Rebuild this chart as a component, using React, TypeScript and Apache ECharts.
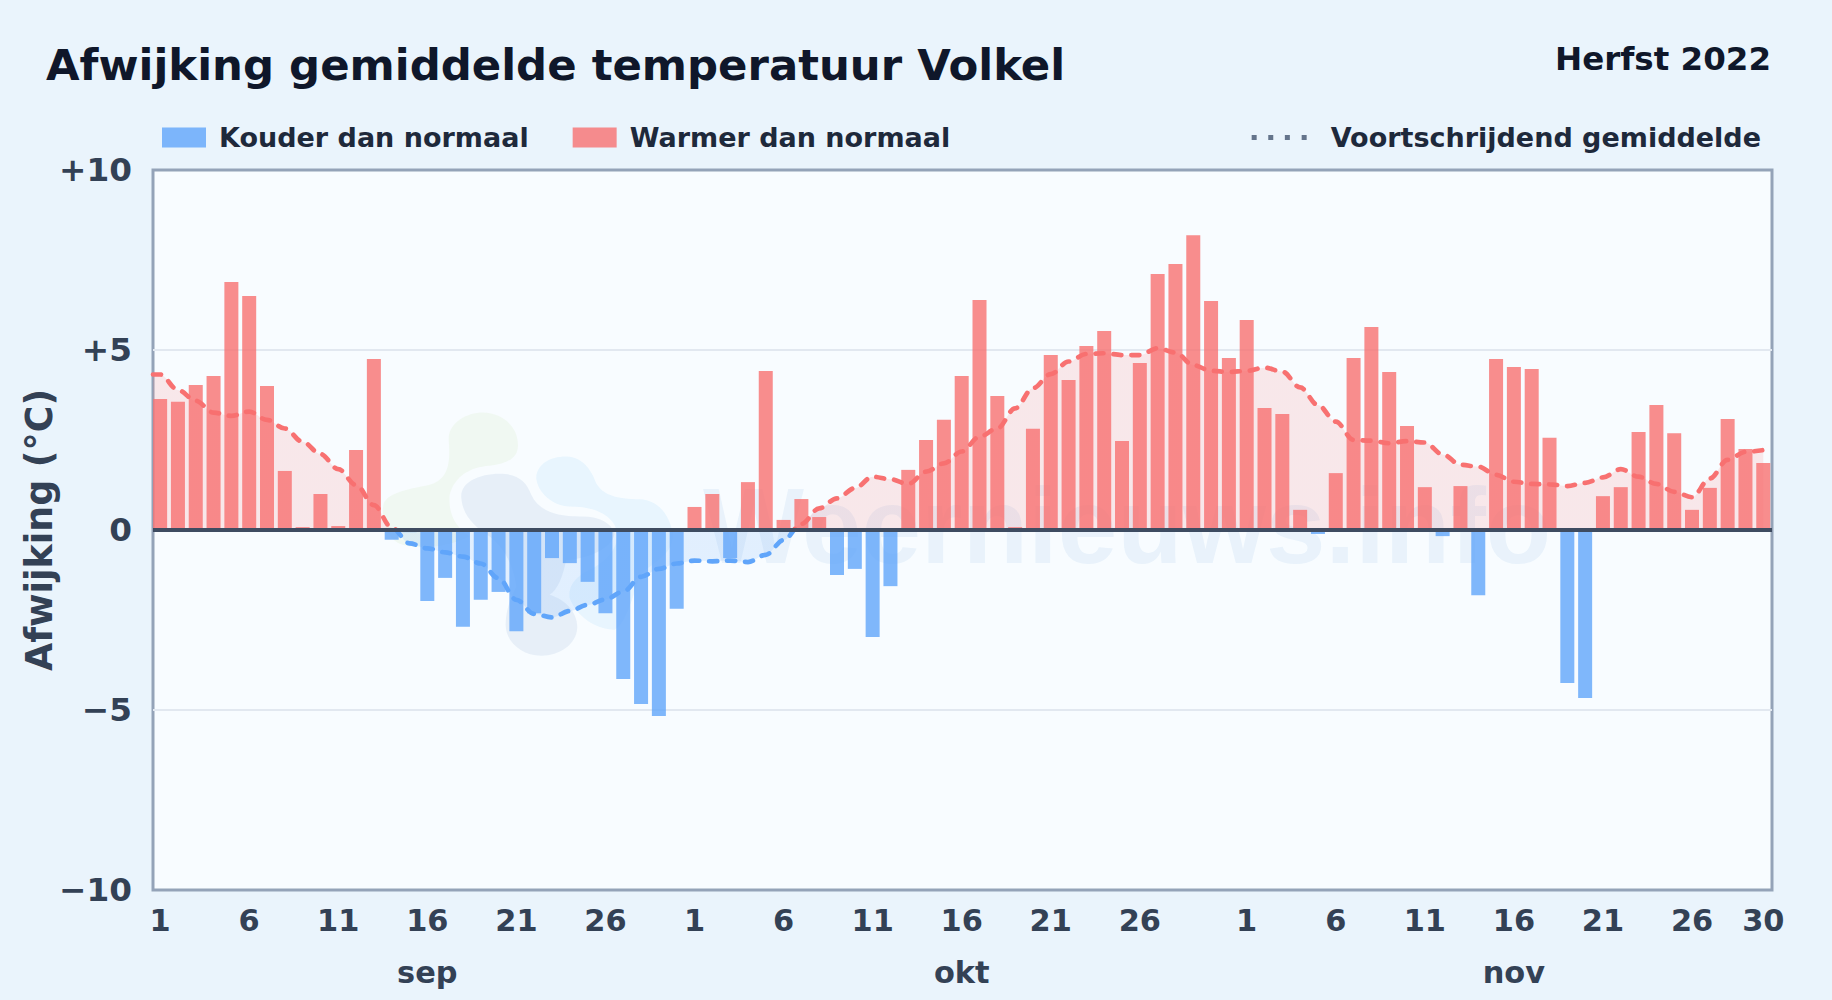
import React, { useEffect, useRef } from "react";
import * as echarts from "echarts";

const FONT = "DejaVu Sans";
const deviations = [3.64,3.56,4.03,4.28,6.89,6.5,4.0,1.64,0.08,1.0,0.11,2.22,4.75,-0.27,-0.06,-1.97,-1.33,-2.69,-1.94,-1.72,-2.81,-2.31,-0.78,-0.92,-1.44,-2.31,-4.14,-4.83,-5.17,-2.19,0.64,1.0,-0.78,1.33,4.42,0.28,0.86,0.36,-1.25,-1.08,-2.97,-1.56,1.67,2.5,3.06,4.28,6.39,3.72,0.08,2.81,4.86,4.17,5.11,5.53,2.47,4.64,7.11,7.39,8.19,6.36,4.78,5.83,3.39,3.22,0.56,-0.11,1.58,4.78,5.64,4.39,2.89,1.19,-0.17,1.22,-1.81,4.75,4.53,4.47,2.56,-4.25,-4.67,0.94,1.19,2.72,3.47,2.69,0.56,1.17,3.08,2.25,1.86];
const movingAverage = [4.32,3.89,3.59,3.26,3.17,3.29,3.06,2.82,2.45,2.11,1.69,1.25,0.69,0.07,-0.37,-0.51,-0.62,-0.74,-0.93,-1.34,-1.94,-2.33,-2.43,-2.25,-2.08,-1.93,-1.71,-1.3,-1.08,-0.93,-0.85,-0.87,-0.85,-0.89,-0.69,-0.28,0.17,0.6,0.88,1.16,1.48,1.41,1.28,1.62,1.85,2.18,2.59,2.82,3.38,3.94,4.33,4.68,4.89,4.91,4.86,4.86,5.05,4.93,4.58,4.42,4.39,4.42,4.51,4.4,3.96,3.47,3.01,2.5,2.48,2.41,2.47,2.43,2.1,1.81,1.76,1.53,1.34,1.28,1.27,1.22,1.31,1.46,1.69,1.48,1.28,1.06,0.91,1.43,1.95,2.17,2.22];
const dayTickIndex = [0,5,10,15,20,25,30,35,40,45,50,55,61,66,71,76,81,86,90];
const dayTickLabel = ["1","6","11","16","21","26","1","6","11","16","21","26","1","6","11","16","21","26","30"];
const monthTickIndex = [15,45,76];
const monthLabel = ["sep","okt","nov"];
const yTicks: Record<string,string> = { "10":"+10","5":"+5","0":"0","-5":"\u22125","-10":"\u221210" };
const NAME_COLD = "Kouder dan normaal";
const NAME_WARM = "Warmer dan normaal";
const NAME_AVG = "Voortschrijdend gemiddelde";

const COLD = "rgba(96,165,250,0.8)";
const WARM = "rgba(248,113,113,0.8)";

const greenD = "M700,530 C705,490 770,480 840,465 C885,450 905,420 897,330 C895,280 950,248 1000,248 C1060,250 1105,290 1105,345 C1105,385 1075,400 1020,408 C960,412 915,440 900,495 C895,550 915,590 960,620 C900,650 800,665 745,640 C710,620 695,570 700,530 Z";
const grayD = "M935,505 C930,460 985,432 1050,432 C1105,432 1130,455 1145,495 C1165,540 1215,560 1290,560 C1350,558 1385,580 1395,610 C1390,660 1300,690 1250,690 C1240,740 1225,780 1200,795 C1250,810 1285,850 1283,895 C1280,945 1230,978 1175,978 C1115,978 1068,935 1068,885 C1068,840 1085,800 1100,770 C1090,700 1060,650 1020,620 C975,590 940,560 935,505 Z";
const blueD = "M1160,445 C1160,405 1200,380 1250,380 C1300,382 1325,420 1340,460 C1360,495 1400,508 1470,508 C1530,510 1560,560 1570,610 C1575,680 1500,700 1470,740 C1450,800 1430,880 1395,900 C1340,900 1280,860 1260,805 C1255,760 1290,735 1320,720 C1380,690 1420,640 1395,585 C1370,545 1320,530 1260,530 C1210,528 1165,490 1160,445 Z";

echarts.graphic.registerShape("blobGreen", echarts.graphic.extendPath(greenD, {}) as any);
echarts.graphic.registerShape("blobGray", echarts.graphic.extendPath(grayD, {}) as any);
echarts.graphic.registerShape("blobBlue", echarts.graphic.extendPath(blueD, {}) as any);

const App = () => {
  const ref = useRef<HTMLDivElement>(null);
  useEffect(() => {
    document.body.style.margin = "0";
    document.body.style.background = "#EAF4FC";
    const chart = echarts.init(ref.current!, undefined, { renderer: "svg" });
    const xIndex = deviations.map((_, i) => i);
    const blob = (type: string, fill: string) => ({
      type, x: 150, y: 330, scaleX: 1/3, scaleY: 1/3, z: 1, silent: true, style: { fill },
    });
    chart.setOption({
      animation: false,
      backgroundColor: "#EAF4FC",
      textStyle: { fontFamily: FONT },
      title: [
        { text: "Afwijking gemiddelde temperatuur Volkel", left: 46, top: 43, padding: 0,
          textStyle: { fontFamily: FONT, fontWeight: "bold", fontSize: 43.4, color: "#0F172A" } },
        { text: "Herfst 2022", right: 61, top: 42, padding: 0,
          textStyle: { fontFamily: FONT, fontWeight: "bold", fontSize: 32.5, color: "#0F172A" } },
      ],
      legend: [
        { data: [NAME_COLD, NAME_WARM], left: 162, top: 124, padding: 0, itemWidth: 44, itemHeight: 20, itemGap: 44, icon: "rect",
          textStyle: { fontFamily: FONT, fontWeight: "bold", fontSize: 27, color: "#1E293B", padding: [0,0,0,8] } },
        { data: [{ name: NAME_AVG, icon: "path://M0,0H5V5H0ZM16.6,0H21.6V5H16.6ZM33.2,0H38.2V5H33.2ZM50,0H55V5H50Z", itemStyle: { color: "#64748B" } }],
          right: 71, top: 124, padding: 0, itemWidth: 55, itemHeight: 5, symbolKeepAspect: false,
          textStyle: { fontFamily: FONT, fontWeight: "bold", fontSize: 27, color: "#1E293B", padding: [0,0,0,19] } },
      ],
      grid: { left: 153, right: 60, top: 170, height: 720, show: true, backgroundColor: "#F8FCFF", borderColor: "#94A3B8", borderWidth: 3, containLabel: false, outerBoundsMode: "none" },
      xAxis: [
        { type: "value", min: -0.4, max: 90.49, splitLine: { show: false }, axisLine: { show: false }, axisTick: { show: false },
          axisLabel: { customValues: dayTickIndex, hideOverlap: false, showMinLabel: true, showMaxLabel: true, margin: 15, fontFamily: FONT, fontWeight: "bold", fontSize: 30.4, color: "#334155",
            formatter: (v: number) => dayTickLabel[dayTickIndex.indexOf(v)] ?? "" } },
        { type: "value", position: "bottom", min: -0.4, max: 90.49, offset: 51, splitLine: { show: false }, axisLine: { show: false }, axisTick: { show: false },
          axisLabel: { customValues: monthTickIndex, margin: 16, fontFamily: FONT, fontWeight: "bold", fontSize: 30.4, color: "#334155",
            formatter: (v: number) => monthLabel[monthTickIndex.indexOf(v)] ?? "" } },
      ],
      yAxis: { type: "value", min: -10, max: 10, interval: 5, name: "Afwijking (\u00B0C)", nameLocation: "middle", nameGap: 96, nameMoveOverlap: false,
        nameTextStyle: { fontFamily: FONT, fontWeight: "bold", fontSize: 36.4, color: "#334155" },
        axisLine: { show: false }, axisTick: { show: false },
        splitLine: { showMinLine: false, showMaxLine: false, lineStyle: { color: "#E2E8F0", width: 2 } },
        axisLabel: { margin: 21, fontFamily: FONT, fontWeight: "bold", fontSize: 32.7, color: "#334155", formatter: (v: number) => yTicks[String(v)] } },
      visualMap: { show: false, type: "piecewise", seriesIndex: 2, dimension: 1,
        pieces: [{ gt: -20, lte: 0, color: "#60A5FA" }, { gt: 0, lte: 20, color: "#F87171" }] },
      graphic: [
        blob("blobGreen", "rgba(190,225,150,0.12)"),
        blob("blobGray", "rgba(150,180,215,0.17)"),
        blob("blobBlue", "rgba(120,200,250,0.13)"),
        { type: "text", x: 703, y: 472, z: 1, silent: true, style: { text: "Weernieuws.info", fontFamily: "Liberation Sans", fontWeight: "bold", fontSize: 107, fill: "rgba(130,175,225,0.13)" } },
      ],
      series: [
        { name: NAME_COLD, type: "bar", barWidth: 14, barGap: "-100%", z: 3, itemStyle: { color: COLD },
          data: xIndex.filter(i => deviations[i] < 0).map(i => [i, deviations[i]]) },
        { name: NAME_WARM, type: "bar", barWidth: 14, barGap: "-100%", z: 3, itemStyle: { color: WARM },
          data: xIndex.filter(i => deviations[i] >= 0).map(i => [i, deviations[i]]),
          markLine: { silent: true, symbol: "none", z: 5, label: { show: false }, lineStyle: { color: "#3E4C61", width: 4.2, type: "solid" }, data: [{ yAxis: 0 }] } },
        { name: NAME_AVG, type: "line", z: 2, smooth: 0.35, smoothMonotone: "x", showSymbol: false, symbol: "none",
          lineStyle: { width: 4.7, type: [8, 10], cap: "round" }, areaStyle: { opacity: 0.15 },
          data: [[-0.4, movingAverage[0]], ...movingAverage.map((v, i) => [i, v])] },
      ],
    });
    return () => chart.dispose();
  }, []);
  return <div ref={ref} style={{ width: 1832, height: 1000 }} />;
};

export default App;
